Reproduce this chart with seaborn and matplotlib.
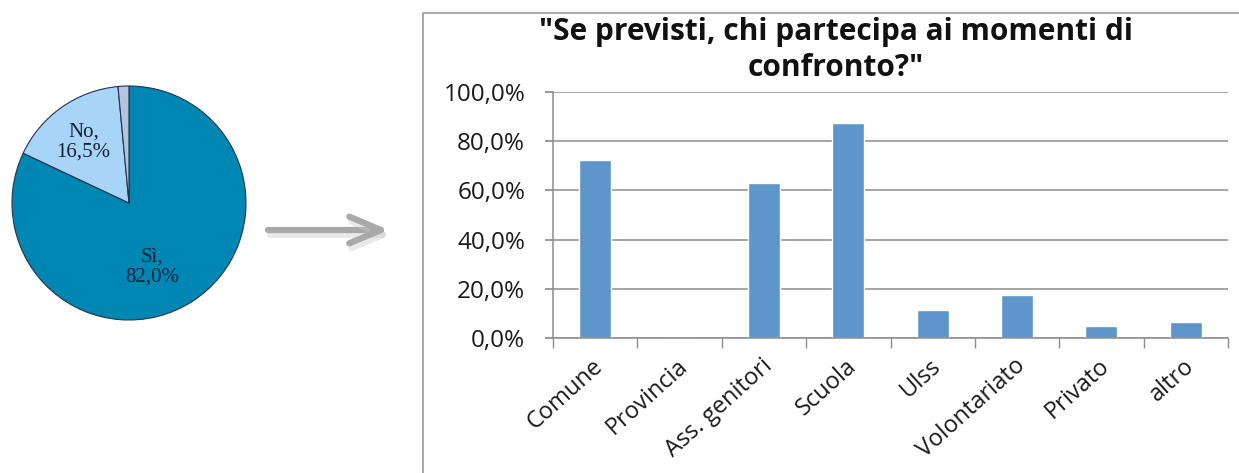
import matplotlib
matplotlib.use("Agg")
import matplotlib.pyplot as plt
import matplotlib.patheffects as pe
import matplotlib.transforms as mtransforms
from matplotlib.lines import Line2D
import seaborn as sns
import pandas as pd

# Pie: "are meetings planned?"
pie_labels = ["Sì", "No", ""]
pie_values = [82.0, 16.5, 1.5]
pie_colors = ["#0086B2", "#A8D4F8", "#B4C4DC"]

# Bars: who takes part in the meetings
categories = ["Comune", "Provincia", "Ass. genitori", "Scuola", "Ulss",
              "Volontariato", "Privato", "altro"]
shares = [0.725, 0.0, 0.629, 0.875, 0.114, 0.173, 0.048, 0.065]
y_ticks = [0.0, 0.2, 0.4, 0.6, 0.8, 1.0]
y_tick_labels = ["0,0%", "20,0%", "40,0%", "60,0%", "80,0%", "100,0%"]
title = "\"Se previsti, chi partecipa ai momenti di\nconfronto?\""

sns.set_theme(style="white")
plt.rcParams["font.family"] = ["Open Sans", "DejaVu Sans"]

W, H = 1239, 473
fig = plt.figure(figsize=(W / 100, H / 100), dpi=100)
fig.patch.set_facecolor("white")

# ---- pie ----
cx, cy, r = 129, 203, 117
pax = fig.add_axes([(cx - r) / W, (H - cy - r) / H, 2 * r / W, 2 * r / H])
pax.pie(pie_values, colors=pie_colors, startangle=90, counterclock=False,
        wedgeprops=dict(edgecolor="#26324A", linewidth=0.8))
pax.set_aspect("auto")
pax.set_xlim(-1, 1)
pax.set_ylim(-1, 1)
serif = ["Liberation Serif", "DejaVu Serif"]


def pct(v):
    return f"{v:.1f}%".replace(".", ",")


pax.text(0.2, -0.55, f"{pie_labels[0]},\n{pct(pie_values[0])}",
         ha="center", va="center", fontsize=15, family=serif, color="#14203A",
         linespacing=1.05)
pax.text(-0.39, 0.52, f"{pie_labels[1]},\n{pct(pie_values[1])}",
         ha="center", va="center", fontsize=15, family=serif, color="#14203A",
         linespacing=1.05)

# ---- arrow and chart frame ----
over = fig.add_axes([0, 0, 1, 1])
over.set_xlim(0, W)
over.set_ylim(H, 0)
over.axis("off")
over.annotate("", xy=(389, 230), xytext=(268, 230),
              arrowprops=dict(arrowstyle="->,head_length=1.9,head_width=0.8",
                              color="#A9A9A9", lw=4.5, shrinkA=0, shrinkB=0,
                              path_effects=[pe.SimpleLineShadow(offset=(1.5, -3.5),
                                                                shadow_color="#C8C8C8",
                                                                alpha=0.4),
                                            pe.Normal()]))
over.add_line(Line2D([423, 423, W], [H, 13, 13], color="#9A9A9A", lw=1.2))

# ---- bars ----
x0, x1, ytop, ybot = 553, 1228, 92, 338
bax = fig.add_axes([x0 / W, (H - ybot) / H, (x1 - x0) / W, (ybot - ytop) / H])
df = pd.DataFrame({"categoria": categories, "quota": shares})
sns.barplot(data=df, x="categoria", y="quota", color="#5E96CB", saturation=1,
            width=0.38, ax=bax)
bax.set_xlim(-0.5, len(categories) - 0.5)
bax.set_ylim(0, 1.0)
bax.set_yticks(y_ticks)
bax.set_yticklabels(y_tick_labels, fontsize=17.5, color="#1A1A1A")
bax.yaxis.grid(True, color="#8C8C8C", lw=1.1)
bax.set_axisbelow(True)
bax.set_xlabel("")
bax.set_ylabel("")
for s in ["top", "right"]:
    bax.spines[s].set_visible(False)
for s in ["left", "bottom"]:
    bax.spines[s].set_color("#8C8C8C")
    bax.spines[s].set_linewidth(1.1)
bax.tick_params(axis="y", left=True, length=6, color="#8C8C8C", pad=14)
bax.set_xticks(range(len(categories)))
bax.set_xticklabels(categories, rotation=42, ha="right", va="center",
                    rotation_mode="anchor", fontsize=17, color="#1A1A1A")
bax.tick_params(axis="x", which="major", length=0, pad=18)
shift = mtransforms.ScaledTranslation(5 / 100, 0, fig.dpi_scale_trans)
for lbl in bax.get_xticklabels():
    lbl.set_transform(lbl.get_transform() + shift)
bax.set_xticks([i - 0.5 for i in range(len(categories) + 1)], minor=True)
bax.tick_params(axis="x", which="minor", bottom=True, length=7, color="#8C8C8C")

fig.text(836 / W, 1 - 50 / H, title, ha="center", va="center", fontsize=21.5,
         fontweight="bold", color="#111111", linespacing=1.25)

fig.savefig("out.png", dpi=100, facecolor="white")
